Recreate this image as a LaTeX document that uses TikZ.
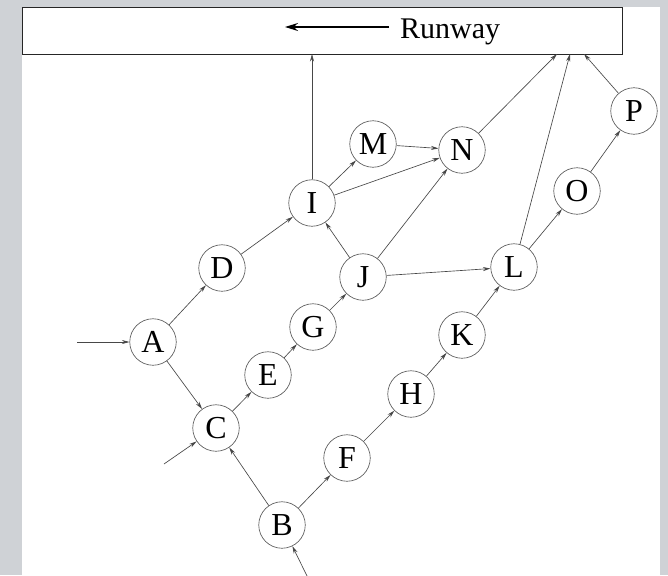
\documentclass[tikz,border=0pt]{standalone}
\usepackage{fontspec}
\setmainfont{Liberation Serif}
\usetikzlibrary{arrows.meta}
\definecolor{pagegray}{RGB}{207,210,214}
\begin{document}
\begin{tikzpicture}[x=1pt,y=-1pt,
  st/.style={circle,draw=black!65,line width=0.65pt,minimum size=46.5pt,inner sep=0pt,
    font=\fontsize{32}{32}\selectfont},
  edge/.style={draw=black!72,line width=0.65pt,-{Stealth[length=7.5pt,width=4pt]}},
  bigarrow/.style={line width=1.6pt,-{Stealth[length=13pt,width=8pt]}}]
% page and margins
\fill[pagegray] (0,0) rectangle (668,575);
\fill[white] (22,7) rectangle (660,575);
\useasboundingbox (0,0) rectangle (668,575);
% runway
\node[draw=black!85,line width=0.9pt,minimum width=600pt,minimum height=47pt,inner sep=0pt,anchor=north west] (rw) at (22,7) {};
\node[font=\fontsize{30}{30}\selectfont,anchor=base west,inner sep=0pt] (rwtext) at (400,39) {Runway};
\coordinate (rwtail) at (389,27);
\coordinate (rwtip) at (285,27);
\draw[bigarrow] (rwtail) -- (rwtip);
% runway entry points
\coordinate (r1) at (312,54);
\coordinate (r2) at (557,54);
\coordinate (r3) at (570,54);
\coordinate (r4) at (584,54);
% states
\node[st] (A) at (153,342) {A};
\node[st] (B) at (282,525) {B};
\node[st] (C) at (216,428) {C};
\node[st] (D) at (222,268) {D};
\node[st] (E) at (268,375) {E};
\node[st] (F) at (347,458) {F};
\node[st] (G) at (313,327) {G};
\node[st] (H) at (411,394) {H};
\node[st] (I) at (312,203) {I};
\node[st] (J) at (363,277) {J};
\node[st] (K) at (462,335) {K};
\node[st] (L) at (514,267) {L};
\node[st] (M) at (373,144) {M};
\node[st] (N) at (462,150) {N};
\node[st] (O) at (577,191) {O};
\node[st] (P) at (634,111) {P};
% incoming flows
\coordinate (inA) at (77,342);
\coordinate (inC) at (164,464);
\coordinate (inB) at (308,578);
\draw[edge] (inA) -- (A);
\draw[edge] (inC) -- (C);
\draw[edge] (inB) -- (B);
% transitions
\draw[edge] (A) -- (D);
\draw[edge] (A) -- (C);
\draw[edge] (D) -- (I);
\draw[edge] (C) -- (E);
\draw[edge] (E) -- (G);
\draw[edge] (G) -- (J);
\draw[edge] (J) -- (I);
\draw[edge] (J) -- (N);
\draw[edge] (J) -- (L);
\draw[edge] (I) -- (M);
\draw[edge] (I) -- (N);
\draw[edge] (M) -- (N);
\draw[edge] (B) -- (C);
\draw[edge] (B) -- (F);
\draw[edge] (F) -- (H);
\draw[edge] (H) -- (K);
\draw[edge] (K) -- (L);
\draw[edge] (L) -- (O);
\draw[edge] (O) -- (P);
% to the runway
\draw[edge] (I) -- (r1);
\draw[edge] (N) -- (r2);
\draw[edge] (L) -- (r3);
\draw[edge] (P) -- (r4);
\end{tikzpicture}
\end{document}
